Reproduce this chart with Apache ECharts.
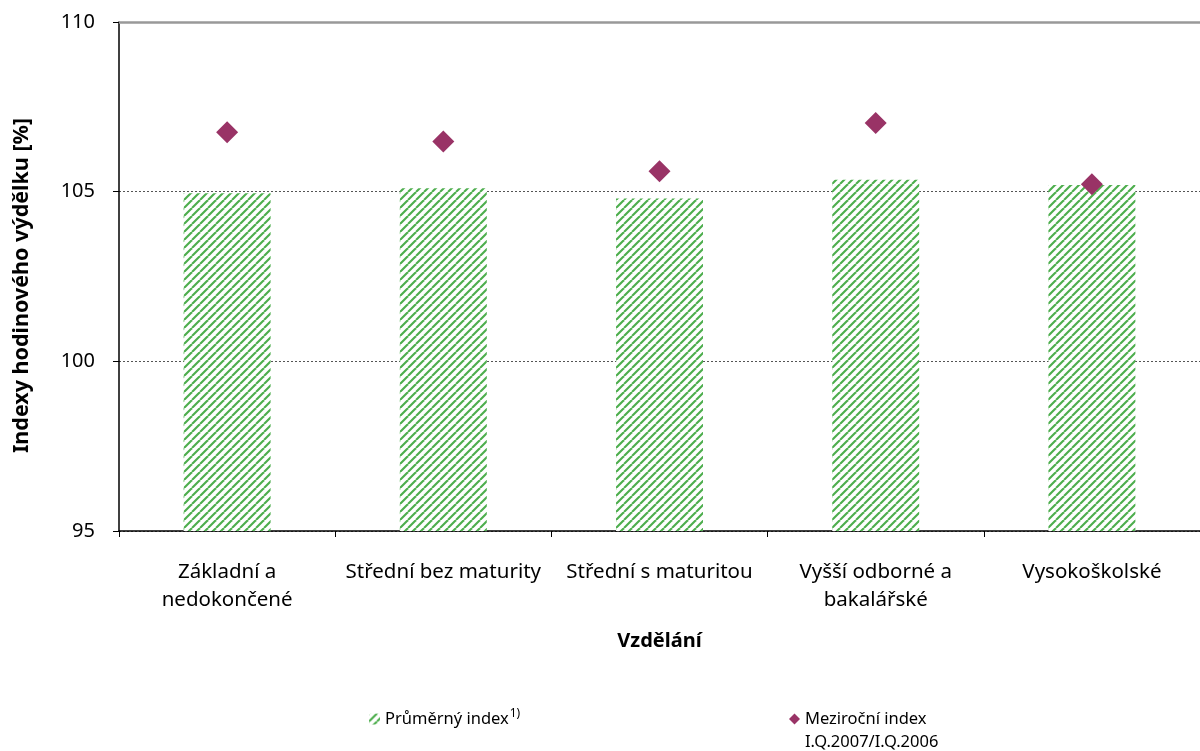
<!DOCTYPE html>
<html>
<head>
<meta charset="utf-8">
<script src="https://cdn.jsdelivr.net/npm/echarts@6/dist/echarts.min.js"></script>
<style>
  html, body { margin: 0; padding: 0; background: #fff; }
  #main { width: 1200px; height: 751px; }
</style>
</head>
<body>
<div id="main"></div>
<script>
var categories = ['Základní a\nnedokončené', 'Střední bez maturity', 'Střední s maturitou', 'Vyšší odborné a\nbakalářské', 'Vysokoškolské'];
var prumernyIndex = [104.95, 105.1, 104.8, 105.35, 105.2];
var mezirocniIndex = [106.75, 106.48, 105.6, 107.02, 105.22];
var yTicks = [95, 100, 105, 110];
var mezirocniSub = 'I.Q.2007/I.Q.2006';

// green diagonal stripe pattern for the bars
function stripePattern() {
    var c = document.createElement('canvas');
    c.width = 8; c.height = 8;
    var ctx = c.getContext('2d');
    ctx.fillStyle = '#ffffff';
    ctx.fillRect(0, 0, 8, 8);
    ctx.strokeStyle = '#4dae4d';
    ctx.lineWidth = 2.1;
    [-8, 0, 8].forEach(function (o) {
        ctx.beginPath();
        ctx.moveTo(o, 8);
        ctx.lineTo(o + 8, 0);
        ctx.stroke();
    });
    return c;
}
var pattern = { image: stripePattern(), repeat: 'repeat' };

var font = '"Noto Sans", sans-serif';
var myChart = echarts.init(document.getElementById('main'));
myChart.setOption({
    animation: false,
    textStyle: { fontFamily: font },
    grid: { left: 119, right: 0, top: 22, bottom: 220 },
    legend: [{
        data: ['Průměrný index'],
        left: 364, top: 703,
        itemWidth: 11, itemHeight: 11, itemGap: 4,
        formatter: function (n) { return '{n|' + n + '}{s|1)}'; },
        textStyle: {
            rich: {
                n: { fontSize: 16.5, color: '#000', fontFamily: font, lineHeight: 22 },
                s: { fontSize: 12, color: '#000', fontFamily: font, verticalAlign: 'top', lineHeight: 22, padding: [0, 0, 8, 1] }
            }
        }
    }, {
        data: ['Meziroční index'],
        left: 784, top: 703,
        itemWidth: 11, itemHeight: 11, itemGap: 4,
        textStyle: { fontSize: 16.5, color: '#000', lineHeight: 22 }
    }],
    graphic: [{
        type: 'text',
        x: 805, y: 742,
        style: { text: mezirocniSub, fontSize: 16.5, fontFamily: font, fill: '#000', verticalAlign: 'middle' }
    }],
    xAxis: {
        type: 'category',
        data: categories,
        name: 'Vzdělání',
        nameLocation: 'middle',
        nameGap: 100,
        nameTextStyle: { fontSize: 20, fontWeight: 'bold', color: '#000' },
        axisLine: { lineStyle: { color: '#000', width: 1.5 } },
        axisTick: { show: true, length: 6, lineStyle: { color: '#000' } },
        axisLabel: { fontSize: 20.5, color: '#000', margin: 27, lineHeight: 28, interval: 0 }
    },
    yAxis: {
        type: 'value',
        min: 95, max: 110, interval: 5,
        name: 'Indexy hodinového výdělku [%]',
        nameLocation: 'middle',
        nameGap: 86,
        nameTextStyle: { fontSize: 21.5, fontWeight: 'bold', color: '#000', padding: [0, 18, 0, 0] },
        axisLine: { show: true, lineStyle: { color: '#000', width: 1.5 } },
        axisTick: { show: true, length: 6, lineStyle: { color: '#000' } },
        axisLabel: { fontSize: 20, color: '#000', margin: 24 },
        splitLine: { show: true, lineStyle: { color: '#555', type: [2, 2], width: 1 } }
    },
    series: [{
        name: 'Průměrný index',
        type: 'bar',
        data: prumernyIndex,
        barWidth: 87,
        itemStyle: { color: pattern },
        markLine: {
            silent: true, symbol: 'none', label: { show: false },
            z: 10,
            lineStyle: { color: '#999', type: 'solid', width: 2.5 },
            data: [{ yAxis: yTicks[yTicks.length - 1] }]
        }
    }, {
        name: 'Meziroční index',
        type: 'scatter',
        data: mezirocniIndex,
        symbol: 'diamond',
        symbolSize: [22, 22],
        itemStyle: { color: '#993366', opacity: 1 },
        z: 5
    }]
});
</script>
</body>
</html>
